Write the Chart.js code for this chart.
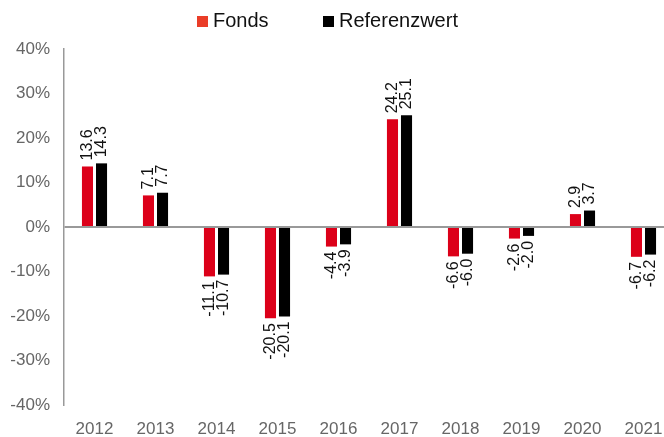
<!DOCTYPE html>
<html>
<head>
<meta charset="utf-8">
<script src="https://cdn.jsdelivr.net/npm/chart.js@4"></script>
<style>
  html, body { margin: 0; padding: 0; background: #fff; overflow: hidden; }
  #wrap { width: 674px; height: 437px; }
</style>
</head>
<body>
<div id="wrap"><canvas id="bar-chart"></canvas></div>
<script>
const years = ["2012", "2013", "2014", "2015", "2016", "2017", "2018", "2019", "2020", "2021"]
const fonds = [13.6, 7.1, -11.1, -20.5, -4.4, 24.2, -6.6, -2.6, 2.9, -6.7]
const referenz = [14.3, 7.7, -10.7, -20.1, -3.9, 25.1, -6.0, -2.0, 3.7, -6.2]
const seriesNames = ["Fonds", "Referenzwert"]
const seriesColors = ["#dc0019", "#000000"]
const legendColors = ["#ea3d28", "#000000"]

const regular = "'Liberation Sans', Arial, sans-serif"

// rotated value labels above / below each bar
const valueLabels = {
  id: "valueLabels",
  afterDatasetsDraw(chart) {
    const ctx = chart.ctx
    ctx.save()
    ctx.font = "16px " + regular
    ctx.fillStyle = "#111"
    ctx.textBaseline = "middle"
    chart.data.datasets.forEach((ds, i) => {
      chart.getDatasetMeta(i).data.forEach((bar, j) => {
        const v = ds.data[j]
        ctx.save()
        ctx.translate(bar.x, bar.y)
        ctx.rotate(-Math.PI / 2)
        if (v >= 0) {
          ctx.textAlign = "left"
          ctx.fillText(v.toFixed(1), 6, 0)
        } else {
          ctx.textAlign = "right"
          ctx.fillText(v.toFixed(1), -5, 0)
        }
        ctx.restore()
      })
    })
    ctx.restore()
  },
}

// legend at the top, drawn by hand so it sits where the original has it
const topLegend = {
  id: "topLegend",
  afterDraw(chart) {
    const ctx = chart.ctx
    const xs = [197, 323]
    ctx.save()
    ctx.font = "20px " + regular
    ctx.textBaseline = "alphabetic"
    ctx.textAlign = "left"
    chart.data.datasets.forEach((ds, i) => {
      ctx.fillStyle = legendColors[i]
      ctx.fillRect(xs[i], 16, 11, 11)
      ctx.fillStyle = "#111"
      ctx.fillText(ds.label, xs[i] + 16, 27)
    })
    ctx.restore()
  },
}

const ctx = document.getElementById("bar-chart")

const barChart = new Chart(ctx, {
  type: "bar",
  data: {
    labels: years,
    datasets: [
      {
        label: seriesNames[0],
        data: fonds,
        backgroundColor: seriesColors[0],
        categoryPercentage: 0.46,
        barPercentage: 0.79,
      },
      {
        label: seriesNames[1],
        data: referenz,
        backgroundColor: seriesColors[1],
        categoryPercentage: 0.46,
        barPercentage: 0.79,
      },
    ],
  },
  options: {
    responsive: true,
    maintainAspectRatio: false,
    animation: false,
    layout: {
      padding: { top: 49, left: 10, right: 0, bottom: 0 },
    },
    plugins: {
      legend: { display: false },
      tooltip: { enabled: false },
    },
    scales: {
      x: {
        grid: { display: false },
        border: { display: false },
        ticks: {
          color: "#666",
          font: { family: regular, size: 17 },
          padding: 6,
          maxRotation: 0,
        },
        afterFit: (s) => { s.height = 32 },
      },
      y: {
        min: -40,
        max: 40,
        ticks: {
          stepSize: 10,
          color: "#666",
          font: { family: regular, size: 17 },
          padding: 14,
          callback: (v) => v + "%",
        },
        grid: {
          drawTicks: false,
          lineWidth: 2,
          color: (c) => (c.tick && c.tick.value === 0 ? "#999" : "rgba(0,0,0,0)"),
        },
        border: { display: true, color: "#999", width: 1.5 },
        afterFit: (s) => { s.width = 54 },
      },
    },
  },
  plugins: [valueLabels, topLegend],
})
</script>
</body>
</html>
